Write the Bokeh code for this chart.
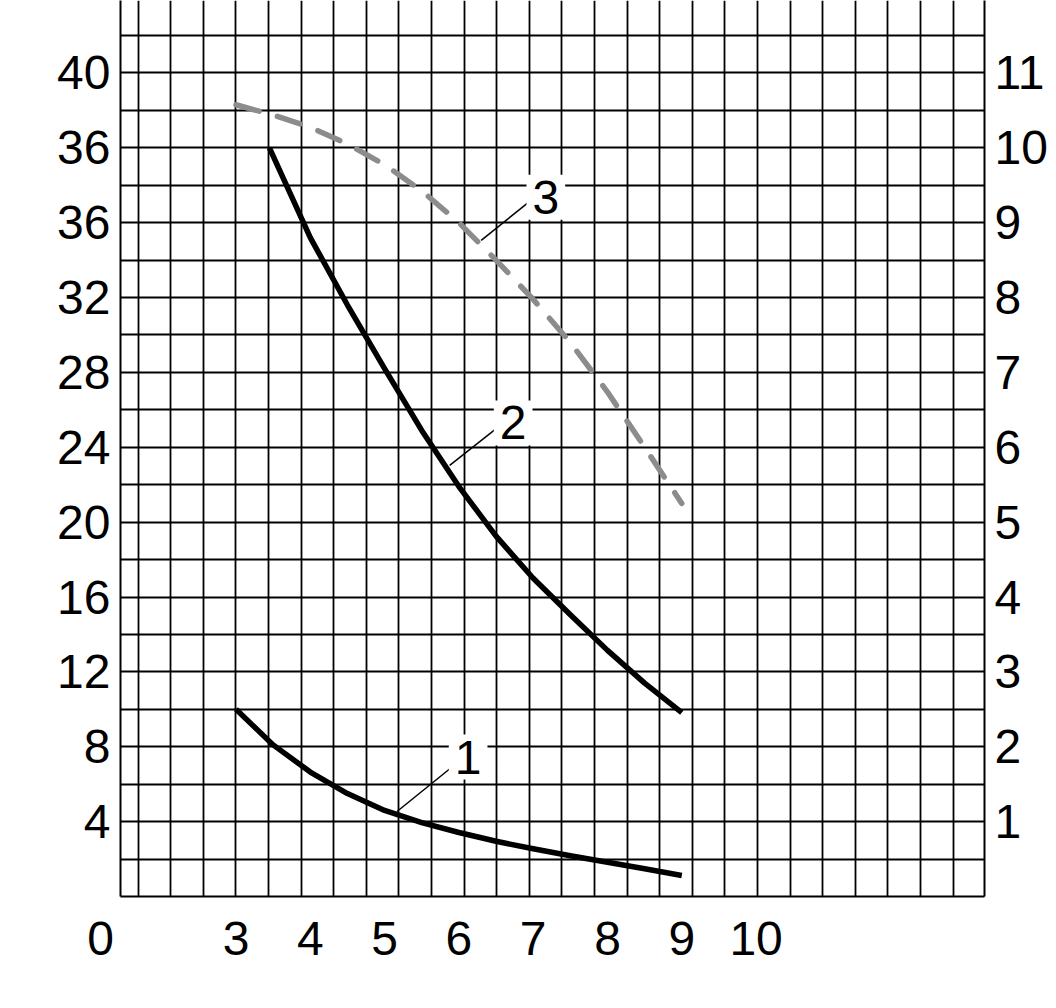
from bokeh.plotting import figure
from bokeh.models import Range1d, LinearAxis, FixedTicker, Label
from bokeh.embed import file_html
from bokeh.resources import INLINE

# ---- data ----
x1 = [3.0, 3.5, 4.0, 4.5, 5.0, 5.5, 6.0, 6.5, 7.0, 7.5, 8.0, 8.5, 9.0]
y1 = [10.0, 8.1, 6.65, 5.5, 4.6, 3.95, 3.42, 2.95, 2.55, 2.18, 1.83, 1.48, 1.12]

x2 = [3.45, 4.0, 4.5, 5.0, 5.5, 6.0, 6.5, 7.0, 7.5, 8.0, 8.5, 9.0]
y2 = [40.0, 35.2, 31.6, 28.2, 24.9, 21.9, 19.25, 17.0, 15.05, 13.15, 11.4, 9.82]

x3 = [3.0, 3.5, 4.0, 4.5, 5.0, 5.5, 6.0, 6.5, 7.0, 7.5, 8.0, 8.5, 9.0]
y3 = [42.3, 41.75, 41.1, 40.2, 39.1, 37.7, 36.0, 34.0, 31.9, 29.6, 26.95, 24.0, 21.0]

x_ticks = [3, 4, 5, 6, 7, 8, 9, 10]
y_left_ticks = [4, 8, 12, 16, 20, 24, 28, 32, 36, 40, 44]
y_left_labels = ["4", "8", "12", "16", "20", "24", "28", "32", "36", "36", "40"]
y_right_ticks = [1, 2, 3, 4, 5, 6, 7, 8, 9, 10, 11]
corner_label = "0"

curve_names = ["1", "2", "3"]
name_x = [6.124, 6.73, 7.17]
name_y = [7.45, 25.3, 37.36]
leader_x0 = [5.167, 5.876, 6.30]
leader_y0 = [4.54, 23.03, 35.05]
leader_x1 = [5.92, 6.515, 6.94]
leader_y1 = [6.96, 25.04, 37.1]

# ---- scales / layout ----
X0, X1 = 1.4455, 13.074
Y0, Y1 = 0.0, 47.87
GRID_DX = 0.43876
grid_x = [3.0 + k * GRID_DX for k in range(-3, 23)]
grid_y = list(range(2, 47, 2))

FONT = "Liberation Sans"
FS = "48px"
NBSP = "\u00a0"

p = figure(frame_width=864, frame_height=896,
           x_range=Range1d(X0, X1), y_range=Range1d(Y0, Y1),
           output_backend="svg", toolbar_location=None,
           min_border_left=120, min_border_right=64,
           min_border_top=0, min_border_bottom=100,
           background_fill_color="white", border_fill_color="white",
           outline_line_color=None)

# grid
p.xgrid.ticker = FixedTicker(ticks=grid_x)
p.ygrid.ticker = FixedTicker(ticks=grid_y)
for g in (p.xgrid, p.ygrid):
    g.grid_line_color = "black"
    g.grid_line_width = 1.8
    g.grid_line_alpha = 1.0

def style_axis(ax, standoff):
    ax.axis_line_color = "black"
    ax.axis_line_width = 2
    ax.major_tick_line_color = None
    ax.minor_tick_line_color = None
    ax.major_tick_out = 0
    ax.major_tick_in = 0
    ax.minor_tick_out = 0
    ax.major_label_text_font = FONT
    ax.major_label_text_font_size = FS
    ax.major_label_text_color = "black"
    ax.major_label_standoff = standoff

# bottom axis: the corner "0" sits at the frame's left edge, shifted left with padding
p.xaxis.ticker = FixedTicker(ticks=[X0] + x_ticks)
p.xaxis.major_label_overrides = {X0: corner_label + NBSP * 3}
style_axis(p.xaxis[0], 15)

p.yaxis.ticker = FixedTicker(ticks=y_left_ticks)
p.yaxis.major_label_overrides = {t: s for t, s in zip(y_left_ticks, y_left_labels)}
style_axis(p.yaxis[0], 10)

p.extra_y_ranges = {"right": Range1d(Y0 / 4, Y1 / 4)}
rax = LinearAxis(y_range_name="right", ticker=FixedTicker(ticks=y_right_ticks))
style_axis(rax, 10)
p.add_layout(rax, "right")

# curves
p.line(x1, y1, line_color="black", line_width=5.5, line_join="round")
p.line(x2, y2, line_color="black", line_width=5.5, line_join="round")
p.line(x3, y3, line_color="#8c8c8c", line_width=5.5, line_dash="24 19",
       line_cap="round", line_join="round")

# leaders
p.segment(leader_x0, leader_y0, leader_x1, leader_y1, line_color="black", line_width=1.5)

for t, lx, ly in zip(curve_names, name_x, name_y):
    p.add_layout(Label(x=lx, y=ly, text=t, text_align="center", text_baseline="middle",
                       text_font=FONT, text_font_size=FS, text_color="black",
                       background_fill_color="white", padding=6))

open("out.html", "w").write(file_html(p, INLINE))
